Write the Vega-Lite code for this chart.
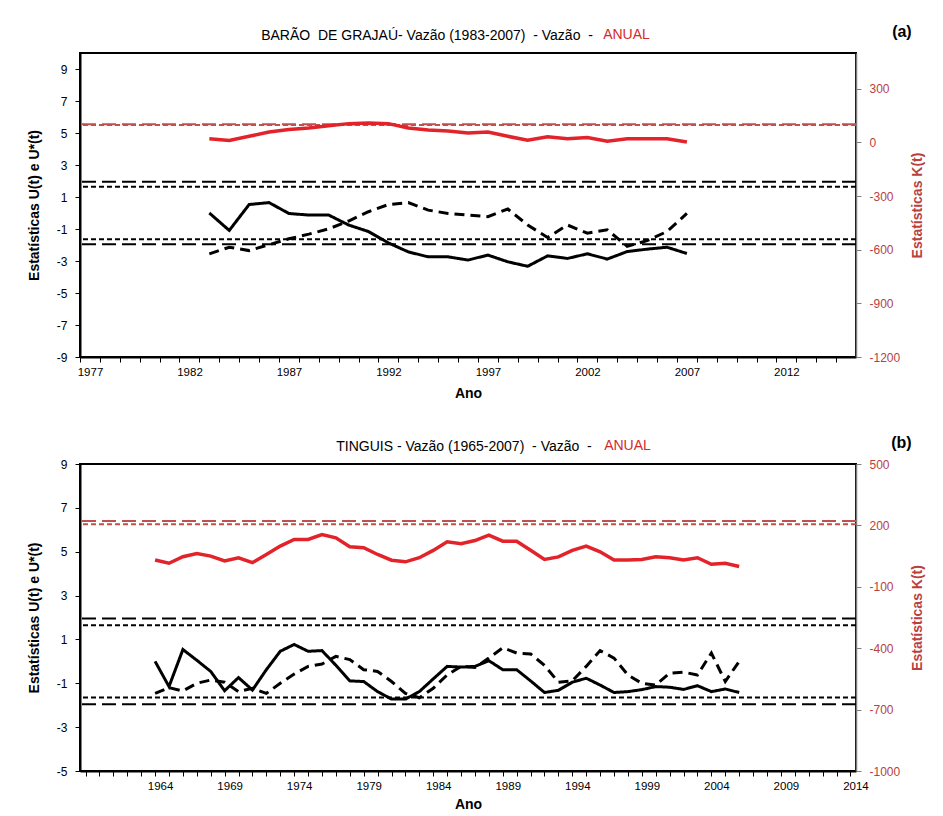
{
  "$schema": "https://vega.github.io/schema/vega-lite/v6.json",
  "background": "white",
  "padding": {"left": 26, "top": 24, "right": 5, "bottom": 5},
  "spacing": 33,
  "config": {
    "font": "Liberation Sans",
    "view": {"stroke": "black", "strokeWidth": 2},
    "axis": {"grid": false, "labelOverlap": false, "tickCount": 60, "labelFont": "Liberation Sans", "labelFontSize": 12, "titleFont": "Liberation Sans", "titleFontSize": 14, "titleFontWeight": "bold"},
    "title": {"font": "Liberation Sans", "fontWeight": "normal", "fontSize": 14, "color": "black"}
  },
  "datasets": {
    "a": [
      {"ano": 1983, "U": 0.0, "Us": -2.55, "K": 20},
      {"ano": 1984, "U": -1.09, "Us": -2.14, "K": 11},
      {"ano": 1985, "U": 0.53, "Us": -2.35, "K": 34},
      {"ano": 1986, "U": 0.65, "Us": -1.98, "K": 58},
      {"ano": 1987, "U": -0.03, "Us": -1.61, "K": 72},
      {"ano": 1988, "U": -0.13, "Us": -1.32, "K": 81},
      {"ano": 1989, "U": -0.13, "Us": -0.99, "K": 93},
      {"ano": 1990, "U": -0.75, "Us": -0.5, "K": 105},
      {"ano": 1991, "U": -1.16, "Us": 0.08, "K": 108},
      {"ano": 1992, "U": -1.87, "Us": 0.53, "K": 105},
      {"ano": 1993, "U": -2.43, "Us": 0.65, "K": 81},
      {"ano": 1994, "U": -2.74, "Us": 0.18, "K": 70},
      {"ano": 1995, "U": -2.74, "Us": -0.03, "K": 64},
      {"ano": 1996, "U": -2.94, "Us": -0.13, "K": 53},
      {"ano": 1997, "U": -2.63, "Us": -0.23, "K": 58},
      {"ano": 1998, "U": -3.05, "Us": 0.25, "K": 34},
      {"ano": 1999, "U": -3.33, "Us": -0.75, "K": 12},
      {"ano": 2000, "U": -2.68, "Us": -1.53, "K": 32},
      {"ano": 2001, "U": -2.84, "Us": -0.75, "K": 21},
      {"ano": 2002, "U": -2.55, "Us": -1.26, "K": 27},
      {"ano": 2003, "U": -2.88, "Us": -1.05, "K": 6},
      {"ano": 2004, "U": -2.41, "Us": -2.08, "K": 20},
      {"ano": 2005, "U": -2.26, "Us": -1.73, "K": 20},
      {"ano": 2006, "U": -2.14, "Us": -1.16, "K": 21},
      {"ano": 2007, "U": -2.53, "Us": -0.03, "K": 2}
    ],
    "b": [
      {"ano": 1964, "U": 0.0, "Us": -1.46, "K": 31},
      {"ano": 1965, "U": -1.15, "Us": -1.2, "K": 15},
      {"ano": 1966, "U": 0.54, "Us": -1.35, "K": 47},
      {"ano": 1967, "U": 0.05, "Us": -1.0, "K": 62},
      {"ano": 1968, "U": -0.46, "Us": -0.85, "K": 50},
      {"ano": 1969, "U": -1.34, "Us": -0.95, "K": 26},
      {"ano": 1970, "U": -0.74, "Us": -1.38, "K": 42},
      {"ano": 1971, "U": -1.31, "Us": -1.23, "K": 18},
      {"ano": 1972, "U": -0.38, "Us": -1.46, "K": 58},
      {"ano": 1973, "U": 0.46, "Us": -1.0, "K": 99},
      {"ano": 1974, "U": 0.77, "Us": -0.58, "K": 131},
      {"ano": 1975, "U": 0.46, "Us": -0.23, "K": 131},
      {"ano": 1976, "U": 0.49, "Us": -0.12, "K": 155},
      {"ano": 1977, "U": -0.18, "Us": 0.23, "K": 139},
      {"ano": 1978, "U": -0.89, "Us": 0.08, "K": 96},
      {"ano": 1979, "U": -0.92, "Us": -0.38, "K": 91},
      {"ano": 1980, "U": -1.38, "Us": -0.46, "K": 58},
      {"ano": 1981, "U": -1.72, "Us": -0.92, "K": 30},
      {"ano": 1982, "U": -1.72, "Us": -1.46, "K": 22},
      {"ano": 1983, "U": -1.38, "Us": -1.66, "K": 42},
      {"ano": 1984, "U": -0.8, "Us": -1.23, "K": 78},
      {"ano": 1985, "U": -0.23, "Us": -0.62, "K": 120},
      {"ano": 1986, "U": -0.26, "Us": -0.23, "K": 110},
      {"ano": 1987, "U": -0.23, "Us": -0.28, "K": 126},
      {"ano": 1988, "U": 0.03, "Us": 0.15, "K": 152},
      {"ano": 1989, "U": -0.38, "Us": 0.62, "K": 123},
      {"ano": 1990, "U": -0.38, "Us": 0.38, "K": 123},
      {"ano": 1991, "U": -0.89, "Us": 0.34, "K": 79},
      {"ano": 1992, "U": -1.42, "Us": -0.18, "K": 34},
      {"ano": 1993, "U": -1.32, "Us": -0.95, "K": 46},
      {"ano": 1994, "U": -0.95, "Us": -0.89, "K": 78},
      {"ano": 1995, "U": -0.77, "Us": -0.23, "K": 99},
      {"ano": 1996, "U": -1.08, "Us": 0.49, "K": 71},
      {"ano": 1997, "U": -1.42, "Us": 0.15, "K": 31},
      {"ano": 1998, "U": -1.38, "Us": -0.62, "K": 31},
      {"ano": 1999, "U": -1.29, "Us": -1.0, "K": 33},
      {"ano": 2000, "U": -1.15, "Us": -1.08, "K": 47},
      {"ano": 2001, "U": -1.18, "Us": -0.54, "K": 42},
      {"ano": 2002, "U": -1.28, "Us": -0.49, "K": 31},
      {"ano": 2003, "U": -1.11, "Us": -0.62, "K": 42},
      {"ano": 2004, "U": -1.38, "Us": 0.38, "K": 10},
      {"ano": 2005, "U": -1.26, "Us": -0.92, "K": 15},
      {"ano": 2006, "U": -1.42, "Us": 0.0, "K": -1}
    ],
    "critU": [
      {"nivel": 1.96, "tipo": "longo"},
      {"nivel": -1.96, "tipo": "longo"},
      {"nivel": 1.645, "tipo": "curto"},
      {"nivel": -1.645, "tipo": "curto"}
    ],
    "critKa": [
      {"k": 102, "tipo": "longo"},
      {"k": 97, "tipo": "curto"}
    ],
    "critKb": [
      {"k": 222, "tipo": "longo"},
      {"k": 206, "tipo": "curto"}
    ]
  },
  "vconcat": [
    {
      "title": {"text": "(a)", "anchor": "end", "font": "Liberation Sans", "fontSize": 16, "fontWeight": "bold", "offset": -14, "dx": -14},
      "vconcat": [
        {
          "width": 776,
          "height": 304,
          "title": {"text": "BARÃO\u00a0 DE GRAJAÚ- Vazão (1983-2007)\u00a0 - Vazão\u00a0 -", "anchor": "middle", "frame": "group", "dx": -41, "offset": -16},
          "layer": [
            {
              "layer": [
                {
                  "data": {"name": "critU"},
                  "mark": {"type": "rule", "color": "black", "strokeWidth": 2},
                  "encoding": {
                    "y": {"field": "nivel", "type": "quantitative"},
                    "strokeDash": {"field": "tipo", "type": "nominal", "scale": {"domain": ["longo", "curto", "U", "Us"], "range": [[14, 6], [5, 3], [1, 0], [10, 6]]}, "legend": null}
                  }
                },
                {
                  "data": {"name": "a"},
                  "transform": [{"fold": ["U", "Us"], "as": ["serie", "valor"]}],
                  "mark": {"type": "line", "color": "black", "strokeWidth": 3},
                  "encoding": {
                    "x": {"field": "ano", "type": "quantitative", "scale": {"domain": [1976.5, 2015.5], "nice": false, "zero": false},
                      "axis": {"orient": "bottom", "title": "Ano", "tickCount": 60, "values": [1976.5, 1977.5, 1978.5, 1979.5, 1980.5, 1981.5, 1982.5, 1983.5, 1984.5, 1985.5, 1986.5, 1987.5, 1988.5, 1989.5, 1990.5, 1991.5, 1992.5, 1993.5, 1994.5, 1995.5, 1996.5, 1997.5, 1998.5, 1999.5, 2000.5, 2001.5, 2002.5, 2003.5, 2004.5, 2005.5, 2006.5, 2007.5, 2008.5, 2009.5, 2010.5, 2011.5, 2012.5, 2013.5, 2014.5],
                        "labelExpr": "(datum.value + 0.5 - 1977) % 5 === 0 ? '' + (datum.value + 0.5) : ''", "labelOffset": 10, "labelOverlap": false, "labelFlush": false, "labelFontSize": 11.5, "labelPadding": 4, "titlePadding": 9, "domainColor": "black", "domainWidth": 2, "tickColor": "black", "tickSize": 5, "labelColor": "black", "titleColor": "black"}},
                    "y": {"field": "valor", "type": "quantitative", "scale": {"domain": [-9, 10], "nice": false, "zero": false},
                      "axis": {"orient": "left", "title": "Estatísticas U(t) e U*(t)", "tickCount": 20, "values": [-9, -7, -5, -3, -1, 1, 3, 5, 7, 9], "labelExpr": "'' + datum.value", "labelOverlap": false, "labelPadding": 8, "titlePadding": 15, "domainColor": "black", "domainWidth": 2, "tickColor": "black", "tickSize": 5, "labelColor": "black", "titleColor": "black"}},
                    "strokeDash": {"field": "serie", "type": "nominal", "scale": {"domain": ["longo", "curto", "U", "Us"], "range": [[14, 6], [5, 3], [1, 0], [10, 6]]}, "legend": null}
                  }
                }
              ]
            },
            {
              "layer": [
                {
                  "data": {"name": "critKa"},
                  "mark": {"type": "rule", "color": "#C0504D", "strokeWidth": 2},
                  "encoding": {
                    "y": {"field": "k", "type": "quantitative"},
                    "strokeDash": {"field": "tipo", "type": "nominal", "scale": {"domain": ["longo", "curto", "U", "Us"], "range": [[14, 6], [5, 3], [1, 0], [10, 6]]}, "legend": null}
                  }
                },
                {
                  "data": {"name": "a"},
                  "mark": {"type": "line", "color": "#E3232A", "strokeWidth": 3.5},
                  "encoding": {
                    "x": {"field": "ano", "type": "quantitative",
                      "axis": {"orient": "top", "title": "ANUAL", "domain": false, "ticks": false, "labels": false, "titleColor": "#D42A2A", "titleFont": "Liberation Sans", "titleFontWeight": "normal", "titleFontSize": 14, "titleX": 546, "titleY": -12, "titleAlign": "center", "titleBaseline": "bottom"}},
                    "y": {"field": "K", "type": "quantitative", "scale": {"domain": [-1200, 500], "nice": false, "zero": false},
                      "axis": {"orient": "right", "title": "Estatísticas K(t)", "tickCount": 20, "values": [-1200, -900, -600, -300, 0, 300], "labelExpr": "'' + datum.value", "labelPadding": 8, "titlePadding": 11, "titleAngle": 270, "titleBaseline": "top", "domainColor": "#7f7f7f", "domainWidth": 1.5, "tickColor": "#7f7f7f", "tickSize": 5, "labelColor": "#B8413F", "titleColor": "#B8413F"}}
                  }
                }
              ]
            }
          ],
          "resolve": {"scale": {"y": "independent"}, "axis": {"x": "independent"}}
        }
      ]
    },
    {
      "title": {"text": "(b)", "anchor": "end", "font": "Liberation Sans", "fontSize": 16, "fontWeight": "bold", "offset": -14, "dx": -14},
      "vconcat": [
        {
          "width": 776,
          "height": 307,
          "title": {"text": "TINGUIS - Vazão (1965-2007)\u00a0 - Vazão\u00a0 -", "anchor": "middle", "frame": "group", "dx": -4, "offset": -16},
          "layer": [
            {
              "layer": [
                {
                  "data": {"name": "critU"},
                  "mark": {"type": "rule", "color": "black", "strokeWidth": 2},
                  "encoding": {
                    "y": {"field": "nivel", "type": "quantitative"},
                    "strokeDash": {"field": "tipo", "type": "nominal", "scale": {"domain": ["longo", "curto", "U", "Us"], "range": [[14, 6], [5, 3], [1, 0], [10, 6]]}, "legend": null}
                  }
                },
                {
                  "data": {"name": "b"},
                  "transform": [{"fold": ["U", "Us"], "as": ["serie", "valor"]}],
                  "mark": {"type": "line", "color": "black", "strokeWidth": 3},
                  "encoding": {
                    "x": {"field": "ano", "type": "quantitative", "scale": {"domain": [1958.6, 2014.4], "nice": false, "zero": false},
                      "axis": {"orient": "bottom", "title": "Ano", "tickCount": 60, "values": [1959, 1960, 1961, 1962, 1963, 1964, 1965, 1966, 1967, 1968, 1969, 1970, 1971, 1972, 1973, 1974, 1975, 1976, 1977, 1978, 1979, 1980, 1981, 1982, 1983, 1984, 1985, 1986, 1987, 1988, 1989, 1990, 1991, 1992, 1993, 1994, 1995, 1996, 1997, 1998, 1999, 2000, 2001, 2002, 2003, 2004, 2005, 2006, 2007, 2008, 2009, 2010, 2011, 2012, 2013, 2014],
                        "labelExpr": "datum.value >= 1964 && (datum.value - 1964) % 5 === 0 ? '' + datum.value : ''", "labelOffset": 5, "labelOverlap": false, "labelFlush": false, "labelFontSize": 11.5, "labelPadding": 4, "titlePadding": 6, "domainColor": "black", "domainWidth": 2, "tickColor": "black", "tickSize": 5, "labelColor": "black", "titleColor": "black"}},
                    "y": {"field": "valor", "type": "quantitative", "scale": {"domain": [-5, 9], "nice": false, "zero": false},
                      "axis": {"orient": "left", "title": "Estatísticas U(t) e U*(t)", "tickCount": 20, "values": [-5, -3, -1, 1, 3, 5, 7, 9], "labelExpr": "'' + datum.value", "labelOverlap": false, "labelPadding": 8, "titlePadding": 15, "domainColor": "black", "domainWidth": 2, "tickColor": "black", "tickSize": 5, "labelColor": "black", "titleColor": "black"}},
                    "strokeDash": {"field": "serie", "type": "nominal", "scale": {"domain": ["longo", "curto", "U", "Us"], "range": [[14, 6], [5, 3], [1, 0], [10, 6]]}, "legend": null}
                  }
                }
              ]
            },
            {
              "layer": [
                {
                  "data": {"name": "critKb"},
                  "mark": {"type": "rule", "color": "#C0504D", "strokeWidth": 2},
                  "encoding": {
                    "y": {"field": "k", "type": "quantitative"},
                    "strokeDash": {"field": "tipo", "type": "nominal", "scale": {"domain": ["longo", "curto", "U", "Us"], "range": [[14, 6], [5, 3], [1, 0], [10, 6]]}, "legend": null}
                  }
                },
                {
                  "data": {"name": "b"},
                  "mark": {"type": "line", "color": "#E3232A", "strokeWidth": 3.5},
                  "encoding": {
                    "x": {"field": "ano", "type": "quantitative",
                      "axis": {"orient": "top", "title": "ANUAL", "domain": false, "ticks": false, "labels": false, "titleColor": "#D42A2A", "titleFont": "Liberation Sans", "titleFontWeight": "normal", "titleFontSize": 14, "titleX": 547, "titleY": -12, "titleAlign": "center", "titleBaseline": "bottom"}},
                    "y": {"field": "K", "type": "quantitative", "scale": {"domain": [-1000, 500], "nice": false, "zero": false},
                      "axis": {"orient": "right", "title": "Estatísticas K(t)", "tickCount": 20, "values": [-1000, -700, -400, -100, 200, 500], "labelExpr": "'' + datum.value", "labelPadding": 8, "titlePadding": 11, "titleAngle": 270, "titleBaseline": "top", "domainColor": "#7f7f7f", "domainWidth": 1.5, "tickColor": "#7f7f7f", "tickSize": 5, "labelColor": "#B8413F", "titleColor": "#B8413F"}}
                  }
                }
              ]
            }
          ],
          "resolve": {"scale": {"y": "independent"}, "axis": {"x": "independent"}}
        }
      ]
    }
  ]
}
